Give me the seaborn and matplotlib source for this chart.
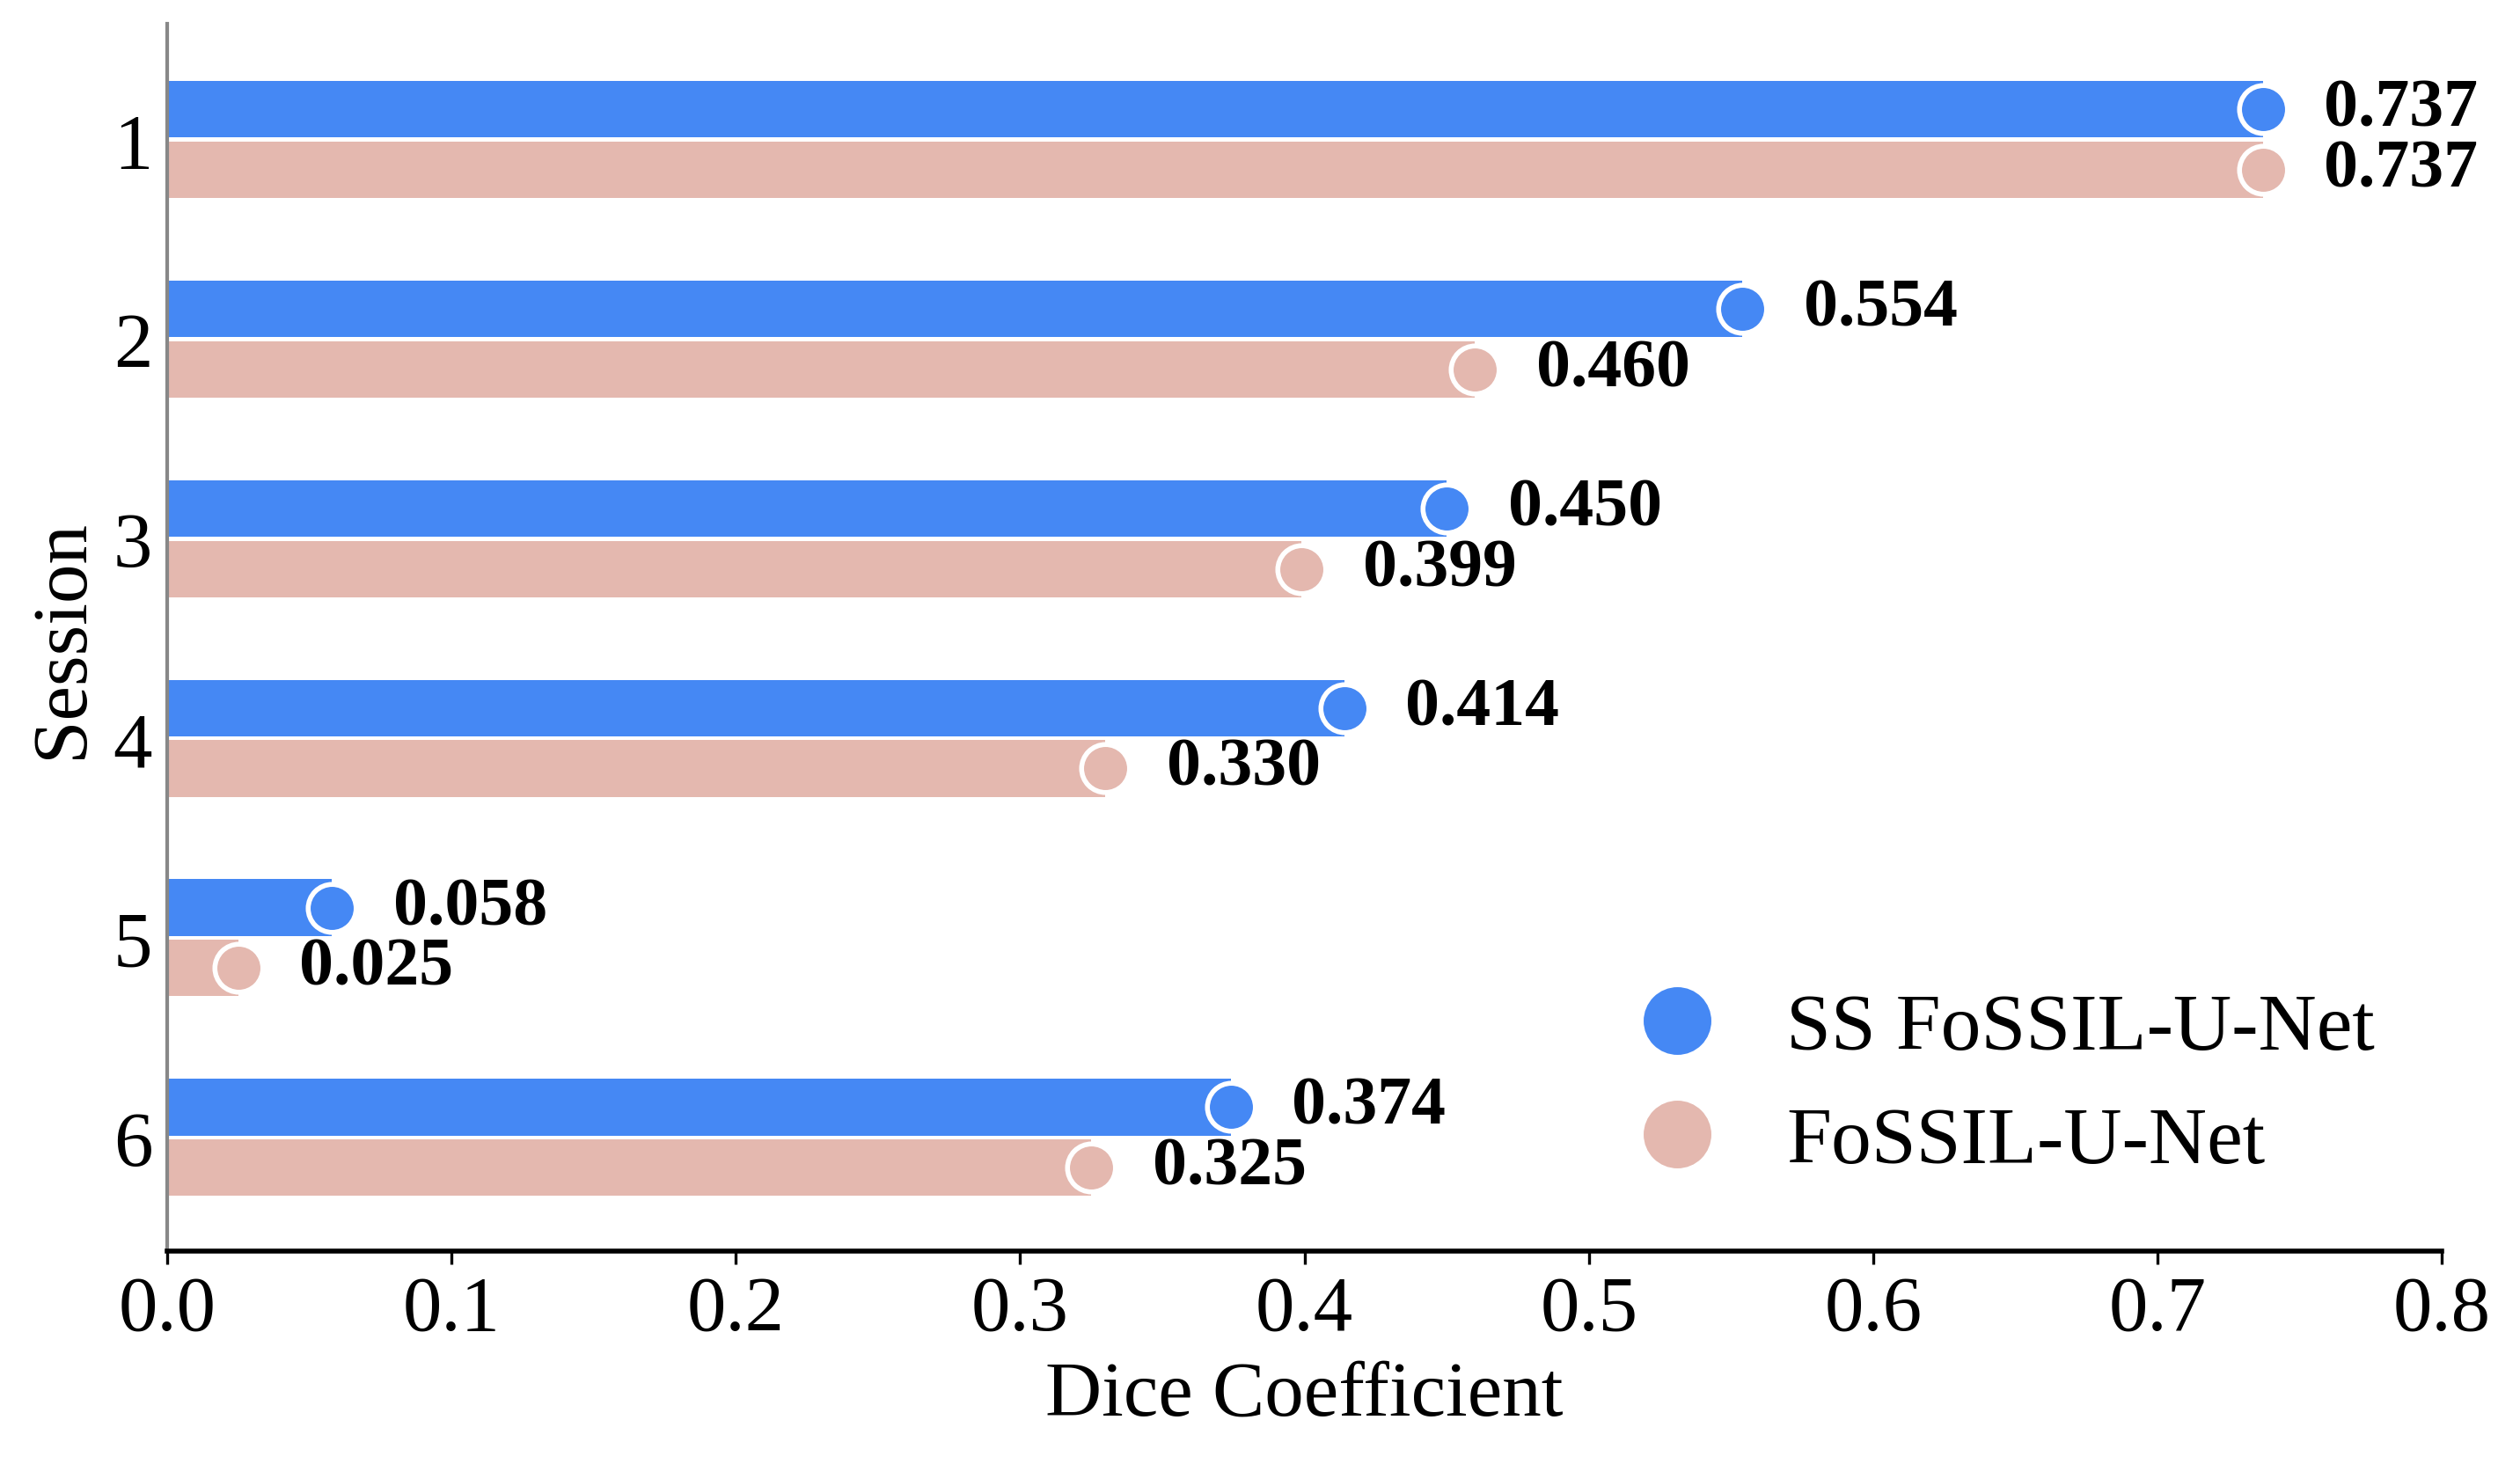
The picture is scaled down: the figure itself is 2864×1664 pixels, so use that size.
import matplotlib
matplotlib.use("Agg")
import matplotlib.pyplot as plt
from matplotlib.lines import Line2D
import seaborn as sns
import pandas as pd

# ---- data ----
sessions = ["1", "2", "3", "4", "5", "6"]
models = ["SS FoSSIL-U-Net", "FoSSIL-U-Net"]
ss_fossil = [0.737, 0.554, 0.450, 0.414, 0.058, 0.374]
fossil = [0.737, 0.460, 0.399, 0.330, 0.025, 0.325]
colors = ["#4588F4", "#E4B8AF"]
x_ticks = [0.0, 0.1, 0.2, 0.3, 0.4, 0.5, 0.6, 0.7, 0.8]

df = pd.DataFrame({
    "Session": sessions * 2,
    "Dice": ss_fossil + fossil,
    "Model": [models[0]] * len(sessions) + [models[1]] * len(sessions),
})

sns.set_style("white")
plt.rcParams["font.family"] = ["Liberation Serif", "DejaVu Serif"]
plt.rcParams["text.color"] = "black"
plt.rcParams["axes.labelcolor"] = "black"
plt.rcParams["xtick.color"] = "black"
plt.rcParams["ytick.color"] = "black"

fig = plt.figure(figsize=(14.32, 8.325), dpi=200)
ax = fig.add_axes([0.0663, 0.1453, 0.9027, 0.8379])

sns.barplot(data=df, x="Dice", y="Session", hue="Model", order=sessions,
            hue_order=models, palette=colors, orient="h", width=0.606,
            gap=0.066, saturation=1, linewidth=0, legend=False, ax=ax)

# markers and value labels at bar ends
for container, col in zip(ax.containers, colors):
    for bar in container:
        xv = bar.get_width()
        yc = bar.get_y() + bar.get_height() / 2
        ax.scatter(xv, yc, s=385, color=col, edgecolor="white",
                   linewidth=2, zorder=5, clip_on=False)
        ax.annotate(f"{xv:.3f}", (xv, yc), xytext=(25, 0),
                    textcoords="offset points", ha="left", va="center",
                    fontsize=28, fontweight="bold", color="black")

ax.set_xlim(0, 0.8)
ax.set_ylim(5.57, -0.58)
ax.set_xticks(x_ticks)
ax.set_xticklabels([f"{t:.1f}" for t in x_ticks])
ax.tick_params(axis="x", labelsize=32, length=5.4, width=1.2,
               color="black", labelcolor="black", direction="out", pad=4,
               bottom=True)
ax.tick_params(axis="y", labelsize=32, length=0, pad=6, labelcolor="black")
ax.set_xlabel("Dice Coefficient", fontsize=32, labelpad=6, color="black")
ax.set_ylabel("Session", fontsize=32, labelpad=6, color="black")

for s in ["top", "right"]:
    ax.spines[s].set_visible(False)
ax.spines["left"].set_color("#888888")
ax.spines["left"].set_linewidth(1.5)
ax.spines["bottom"].set_color("black")
ax.spines["bottom"].set_linewidth(2)

handles = [Line2D([], [], linestyle="none", marker="o", markersize=27.7,
                  markerfacecolor=c, markeredgecolor=c, markeredgewidth=0)
           for c in colors]
leg = fig.legend(handles, models, loc="center left",
                 bbox_to_anchor=(0.6494, 0.2585), bbox_transform=fig.transFigure,
                 frameon=False, fontsize=33, handlelength=1.0,
                 handletextpad=0.86, labelspacing=0.5, borderpad=0,
                 borderaxespad=0)
for t in leg.get_texts():
    t.set_color("black")

fig.savefig("out.png", dpi=200)
